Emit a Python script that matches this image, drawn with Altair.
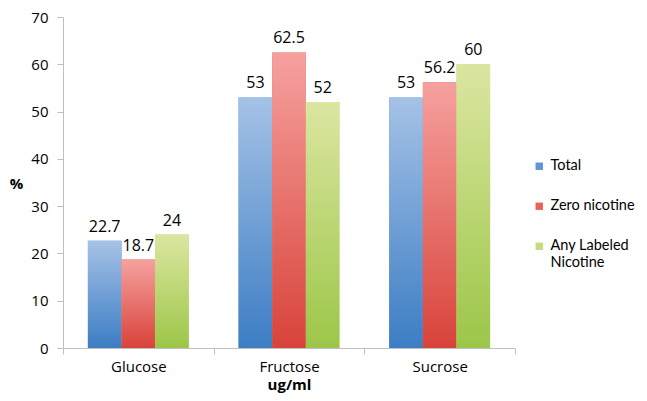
import altair as alt
import pandas as pd

categories = ["Glucose", "Fructose", "Sucrose"]
series = ["Total", "Zero nicotine", "Any Labeled Nicotine"]
total = [22.7, 53, 53]
zero_nic = [18.7, 62.5, 56.2]
any_nic = [24, 52, 60]
y_ticks = [0, 10, 20, 30, 40, 50, 60, 70]

legend_colors = ["#5e95d4", "#e9635e", "#c3dc7c"]
grad_bottom = ["#3c7dc4", "#d8433a", "#9cc648"]
grad_top = ["#a5c2e6", "#f6a19f", "#dbe6a1"]

rows = []
for s, vals in zip(series, [total, zero_nic, any_nic]):
    for c, v in zip(categories, vals):
        rows.append({"cat": c, "series": s, "value": v})
df = pd.DataFrame(rows)

FONT = "Open Sans"
FS = 15

x_enc = alt.X(
    "cat:N",
    sort=categories,
    scale=alt.Scale(paddingInner=0, paddingOuter=0),
    axis=alt.Axis(
        title="ug/ml",
        titleFontWeight="bold",
        titleFontSize=FS,
        titleFont=FONT,
        titleColor="#000000",
        titlePadding=3,
        labelAngle=0,
        labelFont=FONT,
        labelFontSize=FS,
        labelColor="#000000",
        labelPadding=5,
        tickBand="extent",
        tickSize=6,
        tickColor="#bfbfbf",
        domainColor="#bfbfbf",
        grid=False,
    ),
)
xo_enc = alt.XOffset(
    "series:N",
    sort=series,
    scale=alt.Scale(domain=series, paddingInner=0, paddingOuter=0.74),
)
y_enc = alt.Y(
    "value:Q",
    scale=alt.Scale(domain=[0, 70], nice=False),
    axis=alt.Axis(
        values=y_ticks,
        title="%",
        titleAngle=0,
        titleFontWeight="bold",
        titleFontSize=FS,
        titleFont=FONT,
        titleColor="#000000",
        titleX=-47,
        titleY=166,
        titleAlign="center",
        titleBaseline="middle",
        labelFont=FONT,
        labelFontSize=FS,
        labelColor="#000000",
        labelPadding=9,
        tickSize=6,
        tickColor="#bfbfbf",
        domainColor="#bfbfbf",
        grid=False,
    ),
)

base = alt.Chart(df)

legend_layer = base.mark_bar().encode(
    x=x_enc,
    xOffset=xo_enc,
    y=y_enc,
    color=alt.Color(
        "series:N",
        sort=series,
        scale=alt.Scale(domain=series, range=legend_colors),
        legend=alt.Legend(
            title=None,
            orient="none",
            legendX=469,
            legendY=142,
            symbolType="square",
            symbolSize=55,
            symbolStrokeWidth=0,
            labelFont="Lato",
            labelFontSize=14.5,
            labelColor="#000000",
            labelLimit=200,
            rowPadding=25,
            labelOffset=4,
            labelExpr="datum.label == 'Any Labeled Nicotine' ? ['Any Labeled', 'Nicotine'] : datum.label",
        ),
    ),
)

grad_layers = []
for s, b, t in zip(series, grad_bottom, grad_top):
    g = alt.Gradient(
        gradient="linear",
        stops=[alt.GradientStop(color=b, offset=0), alt.GradientStop(color=t, offset=1)],
        x1=0, x2=0, y1=1, y2=0,
    )
    grad_layers.append(
        base.transform_filter(alt.datum.series == s)
        .mark_bar(fill=g)
        .encode(x=x_enc, xOffset=xo_enc, y=y_enc)
    )

labels = base.mark_text(
    baseline="alphabetic", dy=-9, font=FONT, fontSize=16, color="#000000"
).encode(x=x_enc, xOffset=xo_enc, y=y_enc, text=alt.Text("value:Q"))

chart = (
    alt.layer(legend_layer, *grad_layers, labels)
    .properties(
        width=452,
        height=331,
        padding={"left": 55, "top": 9, "right": 124, "bottom": 45},
        autosize=alt.AutoSizeParams(type="none"),
    )
    .configure_view(stroke=None)
)

chart.save("out.html", embed_options={"renderer": "svg", "actions": False})
